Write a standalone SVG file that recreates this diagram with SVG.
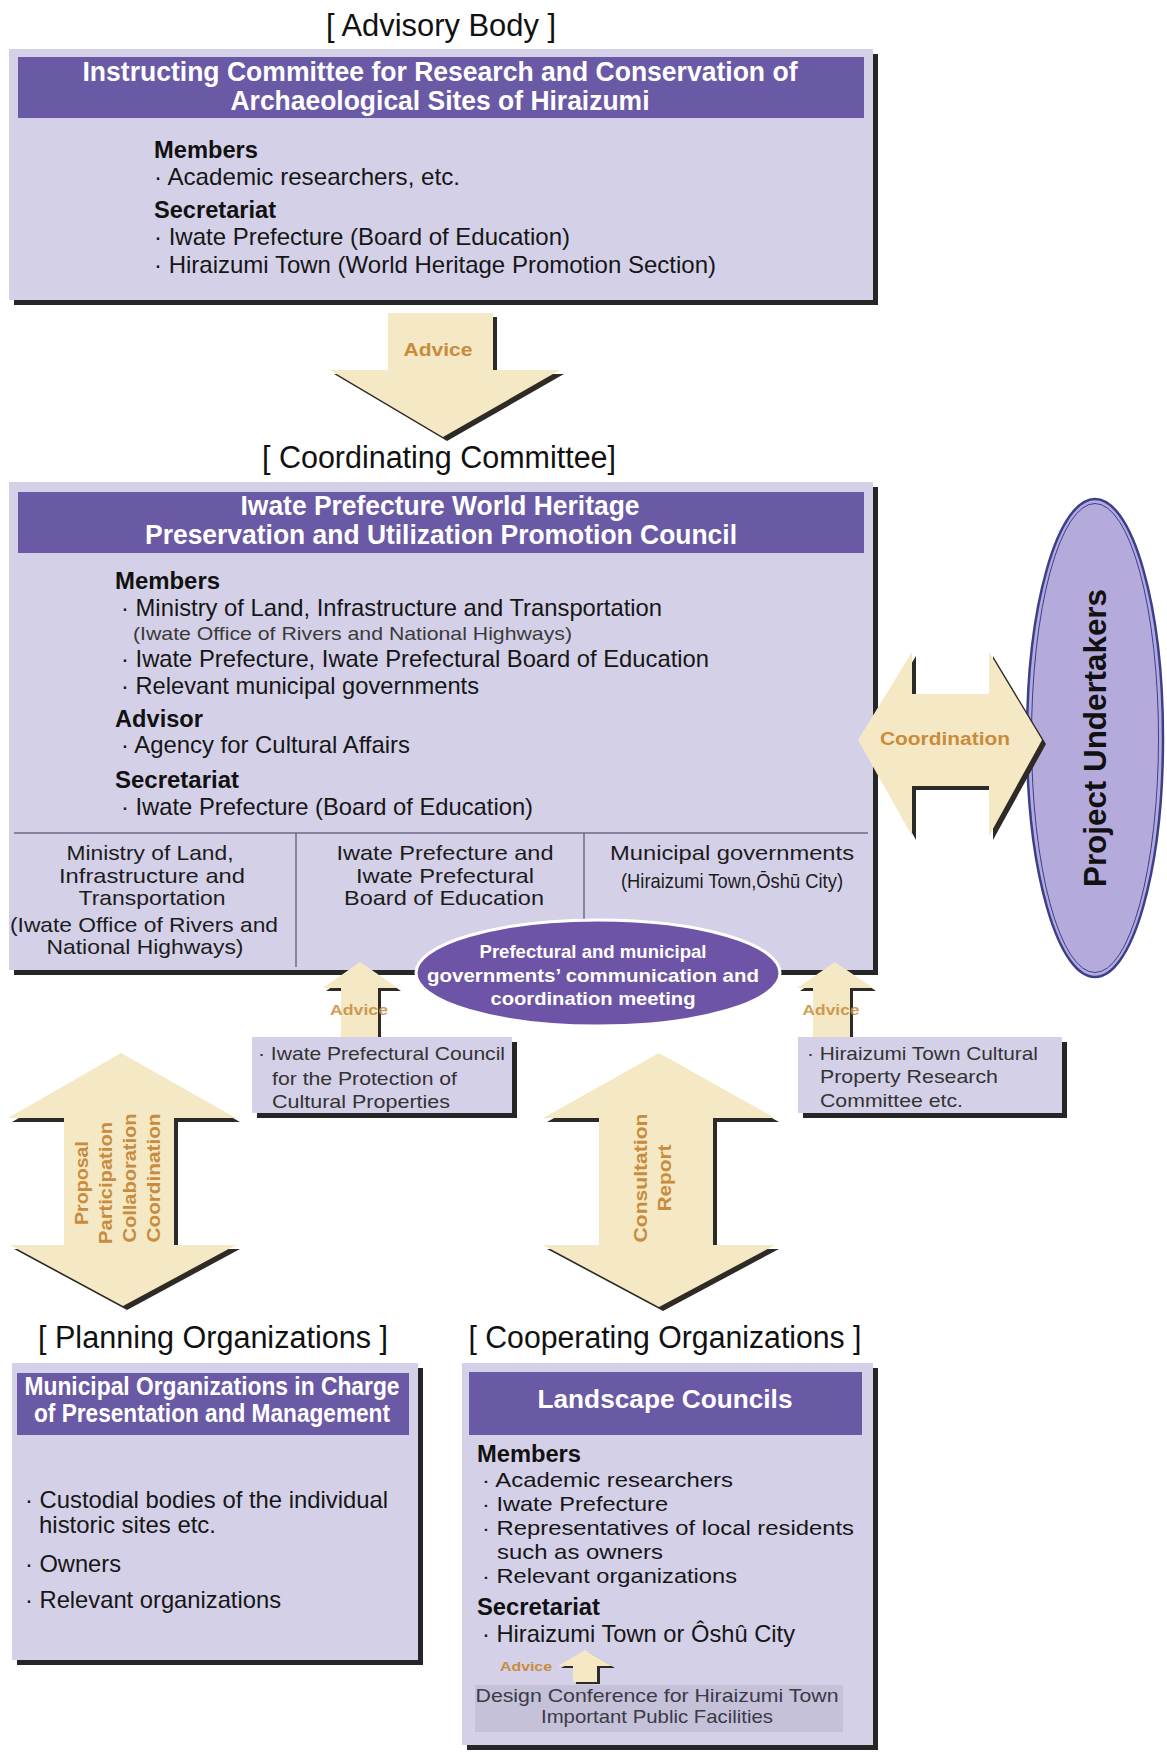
<svg xmlns="http://www.w3.org/2000/svg" xmlns:xlink="http://www.w3.org/1999/xlink" width="1167" height="1753" viewBox="0 0 1167 1753">
<style>
text{font-family:"Liberation Sans",Arial,Helvetica,sans-serif}
.box{fill:#d4d0e8}
.sh{fill:#262626}
.hdr{fill:#6a5aa6}
.ht{font-weight:bold;fill:#ffffff;text-anchor:middle}
.tt{font-size:31px;fill:#111111;text-anchor:middle}
.t{font-size:24px;fill:#161616}
.tc{font-size:21px;fill:#161616}
.lb{font-size:23px;font-weight:bold;fill:#111111}
.sub{font-size:19px;fill:#3a3a3a}
.col{font-size:21px;fill:#1c1c1c;text-anchor:middle}
.sm{font-size:19px;fill:#333333}
.af{fill:#f5e8c4}
.ash{fill:#2e2a26}
.at{font-weight:bold;fill:#c88c3c}
.mt{font-size:19px;font-weight:bold;fill:#ffffff;text-anchor:middle}
.dv{stroke:#6e6a86;stroke-width:1.5;fill:none}
</style>
<defs>
<polygon id="aDown" points="388,313 493,313 493,370 560,370 443,437 330,370 388,370"/>
<polygon id="aLeft" points="121,1053 236,1118 174,1118 174,1245 236,1245 123,1306 10,1245 64,1245 64,1118 8,1118"/>
<polygon id="aMid" points="659,1053 775,1118 713,1118 713,1245 775,1245 659,1307 543,1245 599,1245 599,1118 543,1118"/>
<polygon id="aHor" points="858,740 912,652 912,694 989,694 989,652 1042,740 989,836 989,786 912,786 912,836"/>
<polygon id="aSL" points="360,962 398,988 378,988 378,1037 341,1037 341,988 323,988"/>
<polygon id="aSR" points="835,962 873,988 850,988 850,1037 813,1037 813,988 797,988"/>
<polygon id="aSB" points="585,1650 612,1666 597,1666 597,1682 573,1682 573,1666 558,1666"/>
</defs>
<rect width="1167" height="1753" fill="#ffffff"/>

<g id="advisory-body">
<text class="tt" x="441" y="36" textLength="230" lengthAdjust="spacingAndGlyphs">[ Advisory Body ]</text>
<rect class="sh" x="14" y="54" width="864" height="251"/>
<rect class="box" x="9" y="49" width="864" height="251"/>
<rect class="hdr" x="18" y="57" width="846" height="61"/>
<text class="ht" font-size="27" x="440" y="81" textLength="715" lengthAdjust="spacingAndGlyphs">Instructing Committee for Research and Conservation of</text>
<text class="ht" font-size="27" x="440" y="110" textLength="419" lengthAdjust="spacingAndGlyphs">Archaeological Sites of Hiraizumi</text>
<text class="lb" x="154" y="158" textLength="104" lengthAdjust="spacingAndGlyphs">Members</text>
<text class="t" x="154" y="185" textLength="306" lengthAdjust="spacingAndGlyphs">· Academic researchers, etc.</text>
<text class="lb" x="154" y="218" textLength="122" lengthAdjust="spacingAndGlyphs">Secretariat</text>
<text class="t" x="154" y="245" textLength="416" lengthAdjust="spacingAndGlyphs">· Iwate Prefecture (Board of Education)</text>
<text class="t" x="154" y="273" textLength="562" lengthAdjust="spacingAndGlyphs">· Hiraizumi Town (World Heritage Promotion Section)</text>
</g>

<g id="coordinating-committee">
<text class="tt" x="439" y="468" textLength="354" lengthAdjust="spacingAndGlyphs">[ Coordinating Committee]</text>
<rect class="sh" x="14" y="487" width="864" height="488"/>
<rect class="box" x="9" y="482" width="864" height="488"/>
<rect class="hdr" x="18" y="492" width="846" height="61"/>
<text class="ht" font-size="27" x="440" y="515" textLength="399" lengthAdjust="spacingAndGlyphs">Iwate Prefecture World Heritage</text>
<text class="ht" font-size="27" x="441" y="544" textLength="592" lengthAdjust="spacingAndGlyphs">Preservation and Utilization Promotion Council</text>
<text class="lb" x="115" y="589" textLength="105" lengthAdjust="spacingAndGlyphs">Members</text>
<text class="t" x="121" y="616" textLength="541" lengthAdjust="spacingAndGlyphs">· Ministry of Land, Infrastructure and Transportation</text>
<text class="sub" x="133" y="640" textLength="439" lengthAdjust="spacingAndGlyphs">(Iwate Office of Rivers and National Highways)</text>
<text class="t" x="121" y="667" textLength="588" lengthAdjust="spacingAndGlyphs">· Iwate Prefecture, Iwate Prefectural Board of Education</text>
<text class="t" x="121" y="694" textLength="358" lengthAdjust="spacingAndGlyphs">· Relevant municipal governments</text>
<text class="lb" x="115" y="727" textLength="88" lengthAdjust="spacingAndGlyphs">Advisor</text>
<text class="t" x="121" y="753" textLength="289" lengthAdjust="spacingAndGlyphs">· Agency for Cultural Affairs</text>
<text class="lb" x="115" y="788" textLength="124" lengthAdjust="spacingAndGlyphs">Secretariat</text>
<text class="t" x="121" y="815" textLength="412" lengthAdjust="spacingAndGlyphs">· Iwate Prefecture (Board of Education)</text>
<line class="dv" x1="14" y1="833" x2="868" y2="833" stroke-width="2"/>
<line class="dv" x1="296" y1="833" x2="296" y2="967"/>
<line class="dv" x1="584" y1="833" x2="584" y2="925"/>
<text class="col" x="150" y="860" textLength="167" lengthAdjust="spacingAndGlyphs">Ministry of Land,</text>
<text class="col" x="152" y="883" textLength="186" lengthAdjust="spacingAndGlyphs">Infrastructure and</text>
<text class="col" x="152" y="905" textLength="147" lengthAdjust="spacingAndGlyphs">Transportation</text>
<text class="col" x="144" y="932" font-size="20" textLength="268" lengthAdjust="spacingAndGlyphs">(Iwate Office of Rivers and</text>
<text class="col" x="145" y="954" font-size="20" textLength="197" lengthAdjust="spacingAndGlyphs">National Highways)</text>
<text class="col" x="445" y="860" textLength="217" lengthAdjust="spacingAndGlyphs">Iwate Prefecture and</text>
<text class="col" x="445" y="883" textLength="178" lengthAdjust="spacingAndGlyphs">Iwate Prefectural</text>
<text class="col" x="444" y="905" textLength="200" lengthAdjust="spacingAndGlyphs">Board of Education</text>
<text class="col" x="732" y="860" textLength="244" lengthAdjust="spacingAndGlyphs">Municipal governments</text>
<text class="col" x="732" y="888" font-size="16" textLength="222" lengthAdjust="spacingAndGlyphs">(Hiraizumi Town,Ōshū City)</text>
</g>

<g id="project-undertakers">
<ellipse cx="1095" cy="738" rx="68" ry="239" fill="#b4aadc" stroke="#3c3f8c" stroke-width="2.5"/>
<ellipse cx="1095" cy="738" rx="63.5" ry="234.5" fill="none" stroke="#3c3f8c" stroke-width="1"/>
<text transform="translate(1095,738) rotate(-90)" x="0" y="11" font-size="31" font-weight="bold" fill="#111111" text-anchor="middle" textLength="298" lengthAdjust="spacingAndGlyphs">Project Undertakers</text>
</g>

<g id="connectors">
<use xlink:href="#aDown" class="ash" transform="translate(4,4)"/>
<use xlink:href="#aDown" class="af"/>
<text class="at" font-size="18" x="438" y="356" text-anchor="middle" textLength="69" lengthAdjust="spacingAndGlyphs">Advice</text>

<use xlink:href="#aHor" class="ash" transform="translate(4,4)"/>
<use xlink:href="#aHor" class="af"/>
<text class="at" font-size="18" x="945" y="745" text-anchor="middle" textLength="130" lengthAdjust="spacingAndGlyphs">Coordination</text>

<use xlink:href="#aSL" class="ash" transform="translate(3,3)"/>
<use xlink:href="#aSL" class="af"/>
<text class="at" font-size="15" x="359" y="1015" text-anchor="middle" textLength="58" lengthAdjust="spacingAndGlyphs" opacity="0.85">Advice</text>

<use xlink:href="#aSR" class="ash" transform="translate(3,3)"/>
<use xlink:href="#aSR" class="af"/>
<text class="at" font-size="15" x="831" y="1015" text-anchor="middle" textLength="57" lengthAdjust="spacingAndGlyphs" opacity="0.85">Advice</text>

<use xlink:href="#aLeft" class="ash" transform="translate(4,4)"/>
<use xlink:href="#aLeft" class="af"/>
<g class="at" font-size="18" text-anchor="middle">
<text transform="translate(82,1183) rotate(-90)" x="0" y="6" textLength="84" lengthAdjust="spacingAndGlyphs">Proposal</text>
<text transform="translate(106,1183) rotate(-90)" x="0" y="6" textLength="122" lengthAdjust="spacingAndGlyphs">Participation</text>
<text transform="translate(130,1178) rotate(-90)" x="0" y="6" textLength="129" lengthAdjust="spacingAndGlyphs">Collaboration</text>
<text transform="translate(154,1178) rotate(-90)" x="0" y="6" textLength="129" lengthAdjust="spacingAndGlyphs">Coordination</text>
</g>
<use xlink:href="#aMid" class="ash" transform="translate(4,4)"/>
<use xlink:href="#aMid" class="af"/>
<g class="at" font-size="18" text-anchor="middle">
<text transform="translate(641,1178) rotate(-90)" x="0" y="6" textLength="129" lengthAdjust="spacingAndGlyphs">Consultation</text>
<text transform="translate(665,1178) rotate(-90)" x="0" y="6" textLength="67" lengthAdjust="spacingAndGlyphs">Report</text>
</g>
</g>

<g id="communication-meeting">
<ellipse cx="598" cy="973" rx="182" ry="53" fill="#6e54a6" stroke="#ffffff" stroke-width="3"/>
<text class="mt" x="593" y="958" textLength="227" lengthAdjust="spacingAndGlyphs">Prefectural and municipal</text>
<text class="mt" x="593" y="982" textLength="332" lengthAdjust="spacingAndGlyphs">governments’ communication and</text>
<text class="mt" x="593" y="1005" textLength="205" lengthAdjust="spacingAndGlyphs">coordination meeting</text>
</g>

<g id="prefectural-council">
<rect class="sh" x="257" y="1042" width="260" height="76"/>
<rect class="box" x="252" y="1037" width="260" height="76"/>
<text class="sm" x="258" y="1060" textLength="247" lengthAdjust="spacingAndGlyphs">· Iwate Prefectural Council</text>
<text class="sm" x="272" y="1085" textLength="185" lengthAdjust="spacingAndGlyphs">for the Protection of</text>
<text class="sm" x="272" y="1108" textLength="178" lengthAdjust="spacingAndGlyphs">Cultural Properties</text>
</g>

<g id="town-committee">
<rect class="sh" x="803" y="1042" width="264" height="76"/>
<rect class="box" x="798" y="1037" width="264" height="76"/>
<text class="sm" x="807" y="1060" textLength="231" lengthAdjust="spacingAndGlyphs">· Hiraizumi Town Cultural</text>
<text class="sm" x="820" y="1083" textLength="178" lengthAdjust="spacingAndGlyphs">Property Research</text>
<text class="sm" x="820" y="1107" textLength="143" lengthAdjust="spacingAndGlyphs">Committee etc.</text>
</g>

<g id="planning-organizations">
<text class="tt" x="213" y="1348" textLength="350" lengthAdjust="spacingAndGlyphs">[ Planning Organizations ]</text>
<rect class="sh" x="17" y="1368" width="406" height="297"/>
<rect class="box" x="12" y="1363" width="406" height="297"/>
<rect class="hdr" x="17" y="1373" width="392" height="62"/>
<text class="ht" font-size="25" x="212" y="1395" textLength="375" lengthAdjust="spacingAndGlyphs">Municipal Organizations in Charge</text>
<text class="ht" font-size="25" x="212" y="1422" textLength="356" lengthAdjust="spacingAndGlyphs">of Presentation and Management</text>
<text class="t" x="25" y="1508" textLength="363" lengthAdjust="spacingAndGlyphs">· Custodial bodies of the individual</text>
<text class="t" x="39" y="1533" textLength="177" lengthAdjust="spacingAndGlyphs">historic sites etc.</text>
<text class="t" x="25" y="1572" textLength="96" lengthAdjust="spacingAndGlyphs">· Owners</text>
<text class="t" x="25" y="1608" textLength="256" lengthAdjust="spacingAndGlyphs">· Relevant organizations</text>
</g>

<g id="cooperating-organizations">
<text class="tt" x="665" y="1348" textLength="393" lengthAdjust="spacingAndGlyphs">[ Cooperating Organizations ]</text>
<rect class="sh" x="467" y="1368" width="411" height="382"/>
<rect class="box" x="462" y="1363" width="411" height="382"/>
<rect class="hdr" x="469" y="1372" width="393" height="63"/>
<text class="ht" font-size="25" x="665" y="1408" textLength="255" lengthAdjust="spacingAndGlyphs">Landscape Councils</text>
<text class="lb" x="477" y="1462" textLength="104" lengthAdjust="spacingAndGlyphs">Members</text>
<text class="tc" x="482" y="1487" textLength="251" lengthAdjust="spacingAndGlyphs">· Academic researchers</text>
<text class="tc" x="482" y="1511" textLength="186" lengthAdjust="spacingAndGlyphs">· Iwate Prefecture</text>
<text class="tc" x="482" y="1535" textLength="372" lengthAdjust="spacingAndGlyphs">· Representatives of local residents</text>
<text class="tc" x="497" y="1559" textLength="166" lengthAdjust="spacingAndGlyphs">such as owners</text>
<text class="tc" x="482" y="1583" textLength="255" lengthAdjust="spacingAndGlyphs">· Relevant organizations</text>
<text class="lb" x="477" y="1615" textLength="123" lengthAdjust="spacingAndGlyphs">Secretariat</text>
<text class="t" x="482" y="1642" textLength="313" lengthAdjust="spacingAndGlyphs">· Hiraizumi Town or Ôshû City</text>
</g>

<g id="design-conference">
<rect x="475" y="1685" width="368" height="47" fill="#c4c1d8"/>
<text x="657" y="1702" font-size="19" fill="#3a3a48" text-anchor="middle" textLength="363" lengthAdjust="spacingAndGlyphs">Design Conference for Hiraizumi Town</text>
<text x="657" y="1723" font-size="19" fill="#3a3a48" text-anchor="middle" textLength="232" lengthAdjust="spacingAndGlyphs">Important Public Facilities</text>
</g>

<g id="connectors-design">
<use xlink:href="#aSB" class="ash" transform="translate(3,2)"/>
<use xlink:href="#aSB" class="af" fill="#f7eeb0"/>
<text class="at" font-size="12" x="500" y="1671" textLength="52" lengthAdjust="spacingAndGlyphs" fill="#e6a050">Advice</text>
</g>
</svg>
